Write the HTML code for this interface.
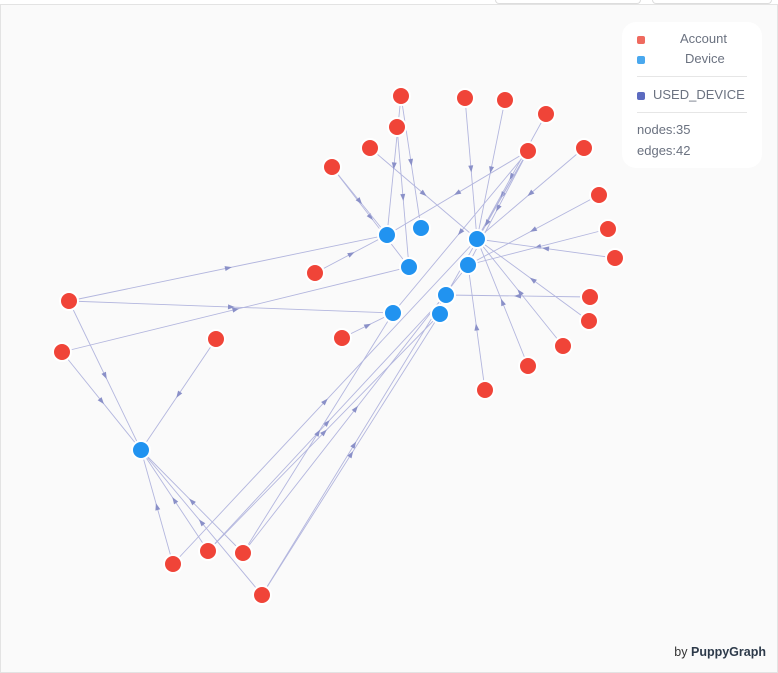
<!DOCTYPE html>
<html><head><meta charset="utf-8">
<style>
html,body{margin:0;padding:0;width:778px;height:673px;overflow:hidden;background:#fff;font-family:"Liberation Sans",sans-serif;}
#frame{position:absolute;left:0;top:4px;width:776px;height:667px;background:#fafafa;border:1px solid #e3e3e3;}
.tab{position:absolute;top:0;height:3px;background:#fff;border:1px solid #ddd;border-top:none;border-radius:0 0 4px 4px;}
#legend{position:absolute;left:622px;top:22px;width:140px;height:146px;background:#fff;border-radius:14px;color:#6b7280;font-size:13px;}
.row{position:absolute;left:15px;height:18px;line-height:18px;}
.sw{display:inline-block;width:8px;height:8px;border-radius:2px;vertical-align:middle;margin-right:8px;}
.sep{position:absolute;left:15px;width:110px;height:1px;background:#e6e6e6;}
#brand{position:absolute;right:12px;bottom:14px;font-size:12.5px;color:#333;}
#brand b{color:#2d3a4a;font-weight:bold;}
</style></head><body>
<div class="tab" style="left:495px;width:144px"></div>
<div class="tab" style="left:652px;width:118px"></div>
<div id="frame">
<svg id="g" width="776" height="667" style="position:absolute;left:0;top:-4px"></svg>
</div>
<div id="legend">
  <div class="row" style="top:8px"><span class="sw" style="background:#ef6a5f"></span><span style="margin-left:27px">Account</span></div>
  <div class="row" style="top:28px"><span class="sw" style="background:#4aa8ee"></span><span style="margin-left:32px">Device</span></div>
  <div class="sep" style="top:54px"></div>
  <div class="row" style="top:64px"><span class="sw" style="background:#5c6bc0"></span>USED_DEVICE</div>
  <div class="sep" style="top:90px"></div>
  <div class="row" style="top:99px">nodes:35</div>
  <div class="row" style="top:120px">edges:42</div>
</div>
<div id="brand">by <b>PuppyGraph</b></div>
<script>
const deviceIds=["D1","D2","D3","D4","D5","D6","D7","D8","D9"];
const devicePos=[[386,234],[420,227],[476,238],[408,266],[467,264],[445,294],[392,312],[439,313],[140,449]];
const accountIds=["A1","A2","A3","A4","A5","A6","A7","A8","A9","A10","A11","A12","A13","A14","A15","A16","A17","A18","A19","A20","A21","A22","A23","A24","A25","A26"];
const accountPos=[[400,95],[464,97],[504,99],[545,113],[396,126],[369,147],[527,150],[583,147],[331,166],[598,194],[607,228],[614,257],[314,272],[589,296],[588,320],[68,300],[61,351],[215,338],[341,337],[562,345],[527,365],[484,389],[172,563],[207,550],[242,552],[261,594]];
const edges=[["A1","D2"],["A5","D4"],["A6","D3"],["A9","D4"],["A2","D3"],["A3","D3"],["A4","D3"],
["A7","D1"],["A7","D3"],["A7","D7"],["A7","D5"],["A7","D6"],
["A8","D3"],["A10","D5"],["A11","D5"],["A12","D3"],["A14","D6"],["A15","D3"],["A20","D3"],["A21","D3"],["A22","D5"],["A13","D1"],["A19","D7"],
["A16","D1"],["A16","D7"],["A16","D9"],["A17","D4"],["A17","D9"],["A18","D9"],
["A23","D9"],["A23","D3"],["A24","D9"],["A24","D6"],["A24","D8"],["A25","D9"],["A25","D7"],["A25","D5"],
["A26","D9"],["A26","D6"],["A26","D8"],["A9","D1"],["A1","D1"]];
const NS="http://www.w3.org/2000/svg";
const svg=document.getElementById('g');
const pos={};
deviceIds.forEach((id,i)=>pos[id]=devicePos[i]);
accountIds.forEach((id,i)=>pos[id]=accountPos[i]);
const eg=document.createElementNS(NS,'g');svg.appendChild(eg);
edges.forEach(([s,t],i)=>{
  const [x1,y1]=pos[s],[x2,y2]=pos[t];
  const l=document.createElementNS(NS,'line');
  
  
  l.setAttribute('x1',x1);l.setAttribute('y1',y1);l.setAttribute('x2',x2);l.setAttribute('y2',y2);
  l.setAttribute('stroke','#b3b6de');l.setAttribute('stroke-width','0.9');
  eg.appendChild(l);
  const mx=(x1+x2)/2,my=(y1+y2)/2,a=Math.atan2(y2-y1,x2-x1)*180/Math.PI;
  const p=document.createElementNS(NS,'path');
  
  
  p.setAttribute('d','M4,0 L-3,-2.5 L-3,2.5 Z');
  p.setAttribute('fill','#8a90c8');
  p.setAttribute('transform','translate('+mx+','+my+') rotate('+a+')');
  eg.appendChild(p);
});
function node(id,c){
  const [x,y]=pos[id];
  const el=document.createElementNS(NS,'circle');
  
  
  el.setAttribute('cx',x);el.setAttribute('cy',y);el.setAttribute('r',9);
  el.setAttribute('fill',c);el.setAttribute('stroke','#fff');el.setAttribute('stroke-width','2');
  svg.appendChild(el);
}
accountIds.forEach(id=>node(id,'#f04438'));
deviceIds.forEach(id=>node(id,'#2193f0'));
</script>
</body></html>
